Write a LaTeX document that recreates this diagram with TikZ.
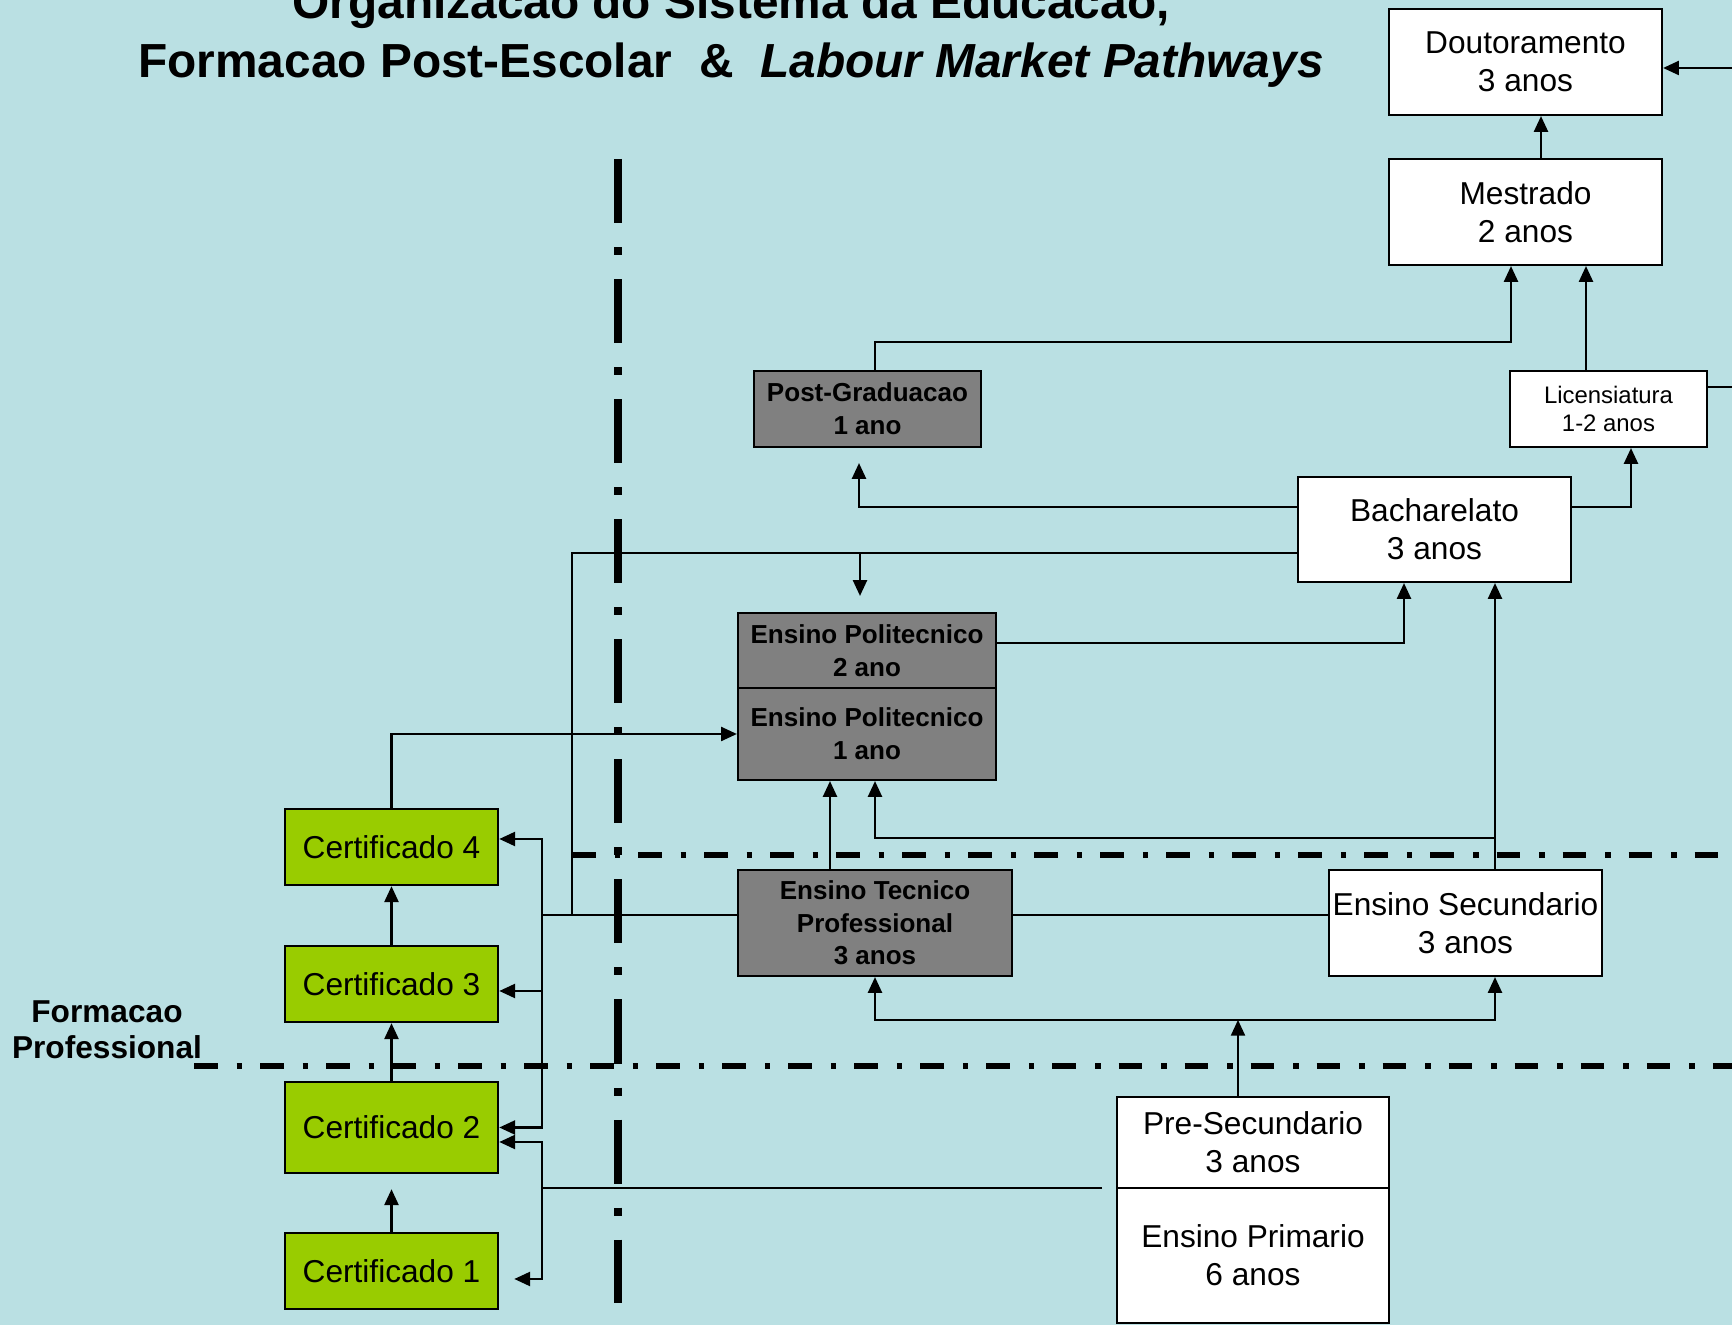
\documentclass[tikz,border=0pt]{standalone}
\usepackage{fontspec}
\setmainfont{Liberation Sans}
\usepackage{tikz}
\usetikzlibrary{arrows.meta,calc}
\definecolor{bgblue}{RGB}{186,224,227}
\definecolor{certgreen}{RGB}{153,204,0}
\definecolor{boxgray}{RGB}{128,128,128}

\begin{document}
\begin{tikzpicture}[x=0.01cm, y=-0.01cm,
  box/.style={draw, line width=0.6pt, fill=white, inner sep=0pt, align=center, font=\fontsize{9}{10.8}\selectfont},
  graybox/.style={box, fill=boxgray, font=\fontsize{7.4}{9.3}\selectfont\bfseries},
  certbox/.style={box, fill=certgreen, line width=0.7pt, minimum width=2.13cm},
  link/.style={line width=0.6pt},
  arr/.style={link, -{Triangle[length=4.5pt,width=4pt]}},
  vsep/.style={line width=2.2pt, dash pattern=on .64cm off .24cm on .08cm off .24cm},
  hsep/.style={line width=1.6pt, dash pattern=on .235cm off .19cm on .055cm off .18cm}]
%%%%% Background %%%%%
\path[clip] (0,0) rectangle (1732,1325);
\fill[bgblue] (0,0) rectangle (1732,1325);

%%%%% Title %%%%%
\node[font=\fontsize{13.6}{16.8}\selectfont\bfseries, align=center] (title) at (731,36)
  {Organizacao do Sistema da Educacao,\\Formacao Post-Escolar\ \ \&\ \ \textit{Labour Market Pathways}};
\node[font=\fontsize{9}{10.3}\selectfont\bfseries, align=center] (formprof) at (107,1030) {Formacao\\Professional};

%%%%% Separators %%%%%
\draw[vsep] (618,159) -- (618,1303);
\draw[hsep] (572,855) -- (1732,855);
\draw[hsep] (194,1066) -- (1732,1066);

%%%%% Boxes %%%%%
\node[box, minimum width=2.73cm, minimum height=1.06cm] (dout) at (1525.5,62) {Doutoramento\\3 anos};
\node[box, minimum width=2.73cm, minimum height=1.06cm] (mest) at (1525.5,212) {Mestrado\\2 anos};
\node[box, minimum width=1.97cm, minimum height=.76cm, font=\fontsize{6.8}{8}\selectfont] (lic) at (1608.5,409) {Licensiatura\\1-2 anos};
\node[graybox, minimum width=2.27cm, minimum height=.76cm] (pg) at (867.5,409) {Post-Graduacao\\1 ano};
\node[box, minimum width=2.73cm, minimum height=1.05cm] (bach) at (1434.5,529.5) {Bacharelato\\3 anos};
\node[graybox, minimum width=2.58cm, minimum height=.75cm] (ep2) at (867,650.5) {Ensino Politecnico\\2 ano};
\node[graybox, minimum width=2.58cm, minimum height=.92cm] (ep1) at (867,734) {Ensino Politecnico\\1 ano};
\node[graybox, minimum width=2.74cm, minimum height=1.06cm] (etp) at (875,923) {Ensino Tecnico\\Professional\\3 anos};
\node[box, minimum width=2.73cm, minimum height=1.06cm] (es) at (1465.5,923) {Ensino Secundario\\3 anos};
\node[box, minimum width=2.72cm, minimum height=.91cm] (ps) at (1253,1142.5) {Pre-Secundario\\3 anos};
\node[box, minimum width=2.72cm, minimum height=1.35cm] (eprim) at (1253,1255.5) {Ensino Primario\\6 anos};
\foreach \i/\y/\h in {1/1271/.76, 2/1127.5/.91, 3/984/.76, 4/847/.76}
  \node[certbox, minimum height=\h cm] (cert\i) at (391.5,\y) {Certificado \i};

%%%%% Helper points %%%%%
\coordinate (doutin) at (1732,68);
\coordinate (licout) at (1732,387);
\coordinate (busA) at (542,915);
\coordinate (busB) at (572,915);
\coordinate (busC) at (542,1188);
\coordinate (bachl) at ($(bach.west)+(0,23.5)$);
\coordinate (pgm) at ($(mest.south)+(-14.5,0)$);
\coordinate (lict) at ($(lic.north)+(-22.5,0)$);
\coordinate (ep2in) at ($(ep2.north)+(-7,-16)$);
\coordinate (etpt) at ($(etp.north)+(-45,0)$);
\coordinate (est) at ($(es.north)+(29.5,0)$);
\coordinate (sec) at ($(es.north)+(29.5,-31)$);
\coordinate (jn) at ($(ps.north)+(-15,-76)$);
\coordinate (psl) at (1102,1188);

%%%%% Connectors %%%%%
\draw[arr] (doutin) -- (doutin -| dout.east);
\draw[link] (lic.east |- licout) -- (licout);
\draw[arr] ($(mest.north)+(15.5,0)$) -- ($(dout.south)+(15.5,0)$);
\draw[arr] (lict) -- (lict |- mest.south);
\draw[arr] ($(pg.north)+(7.5,0)$) |- ($(pgm)+(0,76)$) -- (pgm);
\draw[arr] ($(bach.west)+(0,-22.5)$) -| ($(pg.south)+(-8.5,15)$);
\draw[arr] ($(bach.east)+(0,-22.5)$) -| ($(lic.south)+(22.5,0)$);
\draw[link] (bachl) -| (busB);
\draw[arr] (ep2in |- bachl) -- (ep2in);
\draw[arr] ($(ep2.east)+(0,-7.5)$) -| ($(bach.south)+(-30.5,0)$);
\draw[arr] (cert4.north) |- (ep1.west);
\draw[arr] (etpt) -- (etpt |- ep1.south);
\draw[arr] (est) -- (est |- bach.south);
\draw[arr] (sec) -| ($(ep1.south)+(8,0)$);
\draw[link] ($(es.west)+(0,-8)$) -- ($(etp.east)+(0,-8)$);
\draw[link] ($(etp.west)+(0,-8)$) -- (busA);
\draw[arr] (busA) |- ($(cert4.east)+(0,-8)$);
\draw[arr] (busA) |- ($(cert3.east)+(0,7)$);
\draw[arr] (busA) |- (cert2.east);
\draw[link] (psl) -- (busC);
\draw[arr] (busC) |- ($(cert2.east)+(0,14.5)$);
\draw[arr] (busC) |- ($(cert1.east)+(15,8)$);
\draw[arr] ($(ps.north)+(-15,0)$) -- (jn);
\draw[arr] (jn) -| (etp.south);
\draw[arr] (jn) -| ($(es.south)+(29.5,0)$);
\draw[arr] (cert1.north) -- ($(cert2.south)+(0,15)$);
\foreach \i/\j in {2/3, 3/4}
  \draw[arr] (cert\i.north) -- (cert\j.south);
\end{tikzpicture}
\end{document}
